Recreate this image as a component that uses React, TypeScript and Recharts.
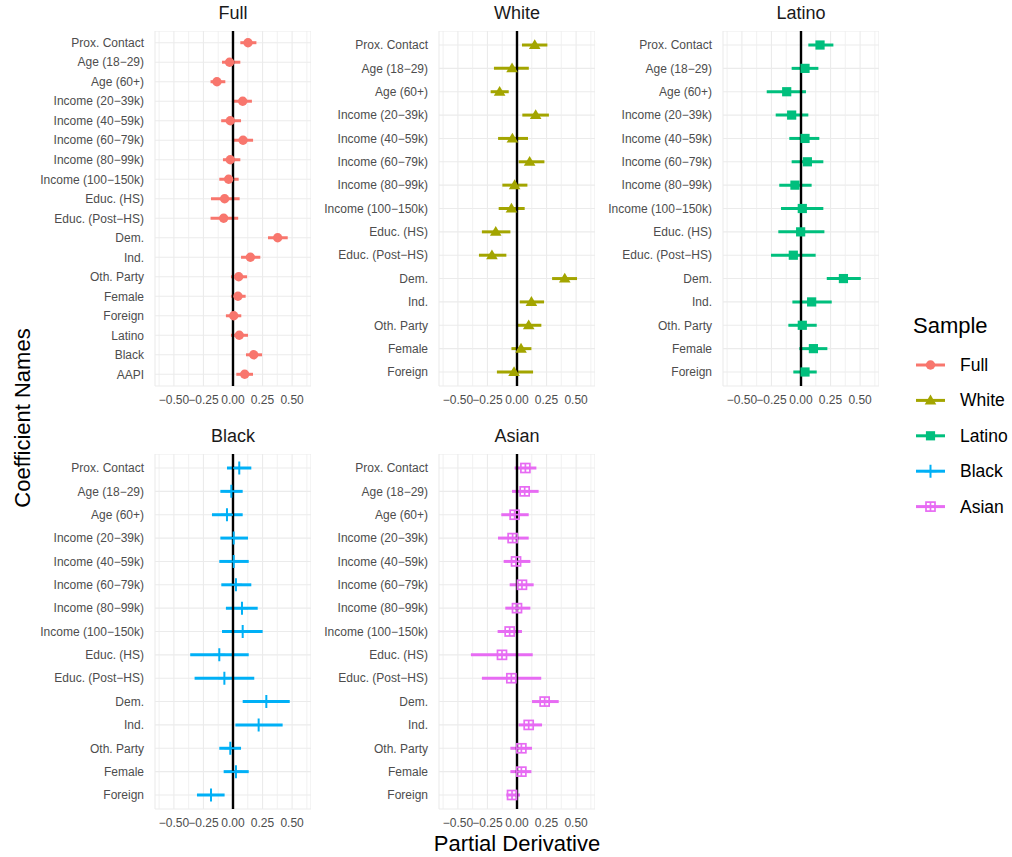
import React from 'react';
import {
  ScatterChart,
  Scatter,
  XAxis,
  YAxis,
  CartesianGrid,
  ReferenceLine,
  ErrorBar,
} from 'recharts';

// Coefficient names (full model has three extra race terms)
const fullTerms = [
  'Prox. Contact', 'Age (18−29)', 'Age (60+)', 'Income (20−39k)', 'Income (40−59k)',
  'Income (60−79k)', 'Income (80−99k)', 'Income (100−150k)', 'Educ. (HS)', 'Educ. (Post−HS)',
  'Dem.', 'Ind.', 'Oth. Party', 'Female', 'Foreign', 'Latino', 'Black', 'AAPI',
];
const groupTerms = [
  'Prox. Contact', 'Age (18−29)', 'Age (60+)', 'Income (20−39k)', 'Income (40−59k)',
  'Income (60−79k)', 'Income (80−99k)', 'Income (100−150k)', 'Educ. (HS)', 'Educ. (Post−HS)',
  'Dem.', 'Ind.', 'Oth. Party', 'Female', 'Foreign',
];

// Partial derivatives with lower / upper interval bounds
const fullEst = [0.127, -0.029, -0.136, 0.082, -0.023, 0.085, -0.023, -0.037, -0.071, -0.079, 0.378, 0.147, 0.048, 0.042, 0.006, 0.053, 0.175, 0.099];
const fullLo = [0.062, -0.093, -0.19, 0.005, -0.1, 0.005, -0.085, -0.116, -0.186, -0.19, 0.296, 0.068, -0.017, -0.015, -0.06, -0.017, 0.11, 0.028];
const fullHi = [0.198, 0.062, -0.065, 0.16, 0.068, 0.17, 0.062, 0.048, 0.056, 0.044, 0.463, 0.231, 0.119, 0.107, 0.07, 0.127, 0.246, 0.169];

const whiteEst = [0.15, -0.042, -0.147, 0.158, -0.039, 0.107, -0.02, -0.047, -0.18, -0.212, 0.404, 0.122, 0.099, 0.034, -0.025];
const whiteLo = [0.042, -0.195, -0.223, 0.045, -0.16, 0.014, -0.124, -0.155, -0.297, -0.322, 0.297, 0.023, 0.008, -0.047, -0.17];
const whiteHi = [0.257, 0.1, -0.07, 0.27, 0.093, 0.232, 0.088, 0.065, -0.056, -0.09, 0.508, 0.229, 0.206, 0.122, 0.136];

const latinoEst = [0.161, 0.034, -0.121, -0.079, 0.034, 0.054, -0.051, 0.011, -0.003, -0.065, 0.359, 0.09, 0.011, 0.105, 0.034];
const latinoLo = [0.062, -0.079, -0.29, -0.214, -0.099, -0.079, -0.184, -0.169, -0.192, -0.254, 0.218, -0.073, -0.107, -0.014, -0.065];
const latinoHi = [0.274, 0.147, 0.042, 0.062, 0.155, 0.189, 0.09, 0.189, 0.198, 0.124, 0.506, 0.26, 0.133, 0.223, 0.133];

const blackEst = [0.053, -0.014, -0.051, 0.006, 0.006, 0.025, 0.076, 0.082, -0.116, -0.073, 0.282, 0.217, -0.023, 0.025, -0.186];
const blackLo = [-0.051, -0.107, -0.178, -0.107, -0.116, -0.099, -0.06, -0.093, -0.362, -0.325, 0.082, 0.02, -0.116, -0.079, -0.305];
const blackHi = [0.155, 0.082, 0.082, 0.127, 0.133, 0.155, 0.209, 0.251, 0.133, 0.18, 0.48, 0.42, 0.068, 0.133, -0.071];

const asianEst = [0.071, 0.065, -0.02, -0.037, -0.008, 0.042, 0, -0.062, -0.127, -0.048, 0.234, 0.099, 0.037, 0.037, -0.042];
const asianLo = [-0.02, -0.042, -0.133, -0.161, -0.113, -0.062, -0.099, -0.164, -0.39, -0.297, 0.127, 0.014, -0.056, -0.056, -0.09];
const asianHi = [0.164, 0.183, 0.099, 0.099, 0.113, 0.141, 0.113, 0.042, 0.133, 0.205, 0.353, 0.212, 0.127, 0.122, 0.025];

// x-axis breaks
const majorBreaks = [-0.5, -0.25, 0, 0.25, 0.5];
const minorBreaks = [-0.625, -0.375, -0.125, 0.125, 0.375, 0.625];
const xDomain: [number, number] = [-0.66, 0.66];

type Shape = 'circle' | 'triangle' | 'square' | 'plus' | 'squarePlus';

const samples = [
  { name: 'Full', color: '#F8766D', shape: 'circle' as Shape, terms: fullTerms, est: fullEst, lo: fullLo, hi: fullHi },
  { name: 'White', color: '#A3A500', shape: 'triangle' as Shape, terms: groupTerms, est: whiteEst, lo: whiteLo, hi: whiteHi },
  { name: 'Latino', color: '#00BF7D', shape: 'square' as Shape, terms: groupTerms, est: latinoEst, lo: latinoLo, hi: latinoHi },
  { name: 'Black', color: '#00B0F6', shape: 'plus' as Shape, terms: groupTerms, est: blackEst, lo: blackLo, hi: blackHi },
  { name: 'Asian', color: '#E76BF3', shape: 'squarePlus' as Shape, terms: groupTerms, est: asianEst, lo: asianLo, hi: asianHi },
];

// layout
const FONT = '"Liberation Sans", Arial, Helvetica, sans-serif';
const PLOT_W = 156;
const PLOT_H = 355;
const Y_AXIS_W = 150;
const X_AXIS_H = 32;
const COL_LEFT = [155, 439, 723];
const ROW_TOP = [31, 453.5];

function Marker({ shape, cx, cy, color }: { shape: Shape; cx: number; cy: number; color: string }) {
  switch (shape) {
    case 'circle':
      return <circle cx={cx} cy={cy} r={4.7} fill={color} />;
    case 'triangle':
      return <polygon points={`${cx},${cy - 5.8} ${cx - 5.8},${cy + 4} ${cx + 5.8},${cy + 4}`} fill={color} />;
    case 'square':
      return <rect x={cx - 4.6} y={cy - 4.6} width={9.2} height={9.2} fill={color} />;
    case 'plus':
      return (
        <path d={`M${cx - 6},${cy}H${cx + 6}M${cx},${cy - 6.5}V${cy + 6.5}`} stroke={color} strokeWidth={2} fill="none" />
      );
    case 'squarePlus':
    default:
      return (
        <g fill="none" stroke={color} strokeWidth={1.7}>
          <rect x={cx - 4.5} y={cy - 4.5} width={9} height={9} />
          <path d={`M${cx - 4.5},${cy}H${cx + 4.5}M${cx},${cy - 4.5}V${cy + 4.5}`} />
        </g>
      );
  }
}

const fmtX = (v: number) => (v < 0 ? '−' : '') + Math.abs(v).toFixed(2);

function Panel({ sample, left, top }: { sample: (typeof samples)[number]; left: number; top: number }) {
  const { terms, est, lo, hi, color, shape } = sample;
  const rows = terms.map((term, i) => ({
    term,
    idx: i,
    est: est[i],
    err: [est[i] - lo[i], hi[i] - est[i]],
  }));
  const tickStyle = { fill: '#4D4D4D', fontSize: 12, fontFamily: FONT };
  return (
    <div style={{ position: 'absolute', left: left - Y_AXIS_W, top }}>
      <ScatterChart
        width={Y_AXIS_W + PLOT_W}
        height={PLOT_H + X_AXIS_H}
        margin={{ top: 0, right: 0, bottom: 0, left: 0 }}
      >
        <CartesianGrid stroke="#EBEBEB" strokeWidth={1.1} />
        {minorBreaks.map((v) => (
          <ReferenceLine key={v} x={v} stroke="#EDEDED" strokeWidth={0.8} />
        ))}
        <XAxis
          type="number"
          dataKey="est"
          domain={xDomain}
          allowDataOverflow
          ticks={majorBreaks}
          interval={0}
          tickFormatter={fmtX}
          axisLine={false}
          tickLine={false}
          tickSize={0}
          tickMargin={9}
          height={X_AXIS_H}
          tick={tickStyle}
        />
        <YAxis
          type="number"
          dataKey="idx"
          domain={[-0.6, terms.length - 0.4]}
          allowDataOverflow
          reversed
          ticks={terms.map((_, i) => i)}
          interval={0}
          tickFormatter={(i: number) => terms[i] ?? ''}
          width={Y_AXIS_W}
          axisLine={false}
          tickLine={false}
          tickSize={0}
          tickMargin={11}
          tick={tickStyle}
        />
        <Scatter
          data={rows}
          isAnimationActive={false}
          shape={(p: any) => <Marker shape={shape} cx={p.cx} cy={p.cy} color={color} />}
        >
          <ErrorBar dataKey="err" direction="x" width={0} strokeWidth={3} stroke={color} isAnimationActive={false} />
        </Scatter>
        <ReferenceLine x={0} stroke="#000000" strokeWidth={2.4} />
      </ScatterChart>
    </div>
  );
}

export default function App() {
  const placements = samples.map((s, i) => ({
    sample: s,
    left: COL_LEFT[i % 3],
    top: ROW_TOP[Math.floor(i / 3)],
  }));
  return (
    <div
      style={{
        position: 'absolute',
        left: 0,
        top: 0,
        width: 1012,
        height: 857,
        background: '#FFFFFF',
        overflow: 'hidden',
        fontFamily: FONT,
      }}
    >
      {placements.map((p) => (
        <Panel key={p.sample.name} sample={p.sample} left={p.left} top={p.top} />
      ))}
      <svg
        width={1012}
        height={857}
        style={{ position: 'absolute', left: 0, top: 0, pointerEvents: 'none' }}
        fontFamily={FONT}
      >
        {placements.map((p) => (
          <text
            key={p.sample.name}
            x={p.left + PLOT_W / 2}
            y={p.top - 18}
            textAnchor="middle"
            dominantBaseline="central"
            fontSize={18}
            fill="#1A1A1A"
          >
            {p.sample.name}
          </text>
        ))}
        <text
          x={517}
          y={843}
          textAnchor="middle"
          dominantBaseline="central"
          fontSize={22}
          fill="#000000"
        >
          Partial Derivative
        </text>
        <text
          transform="translate(22,418) rotate(-90)"
          textAnchor="middle"
          dominantBaseline="central"
          fontSize={22}
          fill="#000000"
        >
          Coefficient Names
        </text>
        <text x={913} y={325} dominantBaseline="central" fontSize={22} fill="#000000">
          Sample
        </text>
        {samples.map((s, i) => {
          const y = 365 + i * 35.4;
          return (
            <g key={s.name}>
              <line x1={916} x2={945} y1={y} y2={y} stroke={s.color} strokeWidth={3} />
              <Marker shape={s.shape} cx={930.5} cy={y} color={s.color} />
              <text x={960} y={y} dominantBaseline="central" fontSize={17.5} fill="#000000">
                {s.name}
              </text>
            </g>
          );
        })}
      </svg>
    </div>
  );
}
